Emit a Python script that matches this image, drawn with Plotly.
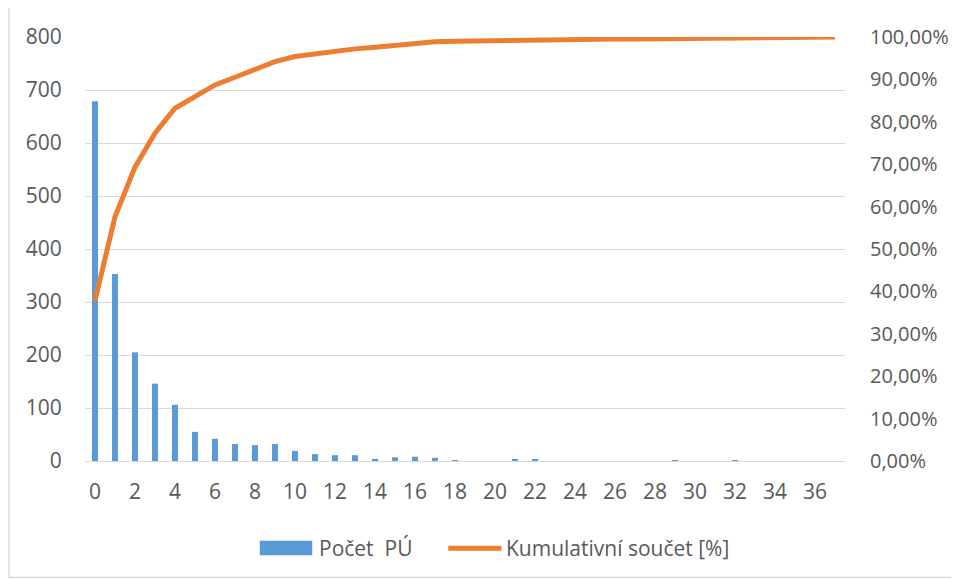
import plotly.graph_objects as go

categories = list(range(0, 38))
counts = [679, 353, 205, 146, 106, 55, 42, 32, 30, 32,
          19, 13, 11, 11, 4, 7, 8, 6, 1, 0,
          0, 2, 2, 0, 0, 0, 0, 0, 0, 1,
          0, 0, 1, 0, 0, 0, 0, 0]
cumulative_pct = [37.8, 57.6, 69.3, 77.3, 83.2, 86.1, 88.7, 90.5, 92.4, 94.2,
                  95.4, 96.1, 96.7, 97.2, 97.6, 98.1, 98.5, 98.9, 99.0, 99.1,
                  99.15, 99.25, 99.35, 99.4, 99.45, 99.5, 99.5, 99.55, 99.6, 99.7,
                  99.75, 99.75, 99.8, 99.85, 99.9, 99.9, 99.95, 100.0]
left_ticks = [0, 100, 200, 300, 400, 500, 600, 700, 800]
right_ticks = [0, 10, 20, 30, 40, 50, 60, 70, 80, 90, 100]
right_labels = ["0,00%", "10,00%", "20,00%", "30,00%", "40,00%", "50,00%",
                "60,00%", "70,00%", "80,00%", "90,00%", "100,00%"]
series_names = ["Počet  PÚ", "Kumulativní součet [%]"]

BLUE = "#5B9BD5"
ORANGE = "#ED7D31"
TXT = "#595959"
GRID = "#D9D9D9"
FONT = "Open Sans"
FS = 21

fig = go.Figure()
fig.add_trace(go.Bar(x=categories, y=counts, name=series_names[0],
                     marker=dict(color=BLUE, line=dict(width=0)),
                     width=0.3))
fig.add_trace(go.Scatter(x=categories, y=cumulative_pct, name=series_names[1],
                         mode="lines", yaxis="y2",
                         line=dict(color=ORANGE, width=5)))

fig.update_layout(
    width=959, height=579,
    margin=dict(l=77, r=122, t=29, b=126),
    paper_bgcolor="white", plot_bgcolor="white",
    font=dict(family=FONT, size=FS, color=TXT),
    showlegend=False,
    xaxis=dict(range=[-0.5, 37.5], tickmode="array",
               tickvals=list(range(0, 38, 2)),
               ticks="outside", ticklen=12, tickcolor="rgba(0,0,0,0)",
               showgrid=False, zeroline=False, showline=True, linecolor=GRID, linewidth=1.3,
               tickfont=dict(family=FONT, size=FS, color=TXT)),
    yaxis=dict(range=[0, 800], tickvals=left_ticks,
               ticks="outside", ticklen=18, tickcolor="rgba(0,0,0,0)",
               showgrid=True, gridcolor=GRID, gridwidth=1.3, zeroline=False,
               tickfont=dict(family=FONT, size=FS, color=TXT)),
    yaxis2=dict(range=[0, 100], overlaying="y", side="right",
                tickvals=right_ticks, ticktext=right_labels,
                ticks="outside", ticklen=20, tickcolor="rgba(0,0,0,0)",
                showgrid=False, zeroline=False,
                tickfont=dict(family=FONT, size=20, color=TXT)),
    shapes=[
        dict(type="line", xref="paper", yref="paper", x0=-0.1, x1=-0.1, y0=-0.275, y1=1.2,
             line=dict(color=GRID, width=1.5)),
        dict(type="line", xref="paper", yref="paper", x0=-0.1, x1=1.3, y0=-0.275, y1=-0.275,
             line=dict(color=GRID, width=1.5)),
        # legend keys
        dict(type="rect", xref="paper", yref="paper", x0=0.230, x1=0.299, y0=-0.222, y1=-0.188,
             fillcolor=BLUE, line=dict(width=0)),
        dict(type="line", xref="paper", yref="paper", x0=0.478, x1=0.548, y0=-0.206, y1=-0.206,
             line=dict(color=ORANGE, width=5)),
    ],
    annotations=[
        dict(xref="paper", yref="paper", x=0.305, y=-0.206, xanchor="left", yanchor="middle",
             text=series_names[0], showarrow=False, font=dict(family=FONT, size=FS, color=TXT)),
        dict(xref="paper", yref="paper", x=0.551, y=-0.206, xanchor="left", yanchor="middle",
             text=series_names[1], showarrow=False, font=dict(family=FONT, size=FS, color=TXT)),
    ],
)

fig.write_html("out.html")
